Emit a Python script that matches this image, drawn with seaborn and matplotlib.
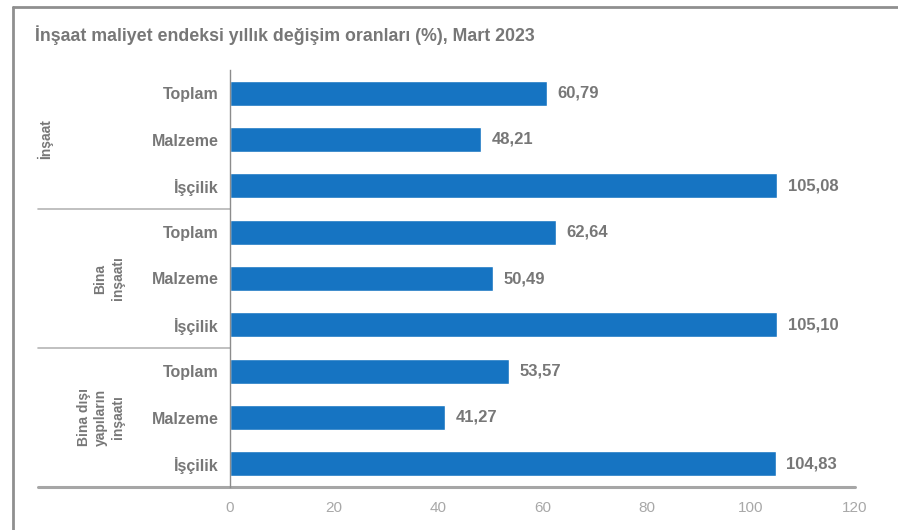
import matplotlib
matplotlib.use("Agg")
import matplotlib.pyplot as plt
from matplotlib.lines import Line2D
import seaborn as sns
import pandas as pd

# Data: annual change rates of the construction cost index (%), March 2023
groups = ["İnşaat", "Bina\ninşaatı", "Bina dışı\nyapıların\ninşaatı"]
items = ["Toplam", "Malzeme", "İşçilik"]
values = [
    [60.79, 48.21, 105.08],   # İnşaat
    [62.64, 50.49, 105.10],   # Bina inşaatı
    [53.57, 41.27, 104.83],   # Bina dışı yapıların inşaatı
]
value_labels = [
    ["60,79", "48,21", "105,08"],
    ["62,64", "50,49", "105,10"],
    ["53,57", "41,27", "104,83"],
]
x_ticks = [0, 20, 40, 60, 80, 100, 120]

rows = []
for gi, g in enumerate(groups):
    for ii, it in enumerate(items):
        rows.append({"key": f"{gi}-{it}", "item": it, "group": g,
                     "value": values[gi][ii], "label": value_labels[gi][ii]})
df = pd.DataFrame(rows)

sns.set_theme(style="white")
plt.rcParams["font.family"] = ["Liberation Sans", "DejaVu Sans"]

BAR = "#1674c2"
TXT = "#777777"
LINE = "#a6a6a6"

fig = plt.figure(figsize=(8.98, 5.30), dpi=100)
ax = fig.add_axes([230 / 898, 1 - 487 / 530, 625 / 898, 417 / 530])

sns.barplot(data=df, y="key", x="value", orient="h", color=BAR,
            width=0.54, saturation=1, ax=ax)

ax.set_xlim(0, 120)
ax.set_ylim(len(df) - 0.5, -0.5)
ax.set_xticks(x_ticks)
ax.set_xticklabels([str(t) for t in x_ticks], color="#a8a8a8", fontsize=11)
ax.set_yticks(range(len(df)))
ax.set_yticklabels(df["item"], color=TXT, fontsize=11.5, fontweight="bold")
ax.set_xlabel("")
ax.set_ylabel("")
ax.tick_params(axis="x", direction="out", length=6, width=1.2, color=LINE, pad=4)
ax.tick_params(axis="y", length=0, pad=8)

for s in ["top", "right", "bottom"]:
    ax.spines[s].set_visible(False)
ax.spines["left"].set_color("#8c8c8c")
ax.spines["left"].set_linewidth(1.0)

# Value labels at bar ends
for i, r in df.iterrows():
    ax.text(r["value"] + 2, i, r["label"], va="center", ha="left",
            color=TXT, fontsize=12, fontweight="bold")

# Baseline extended under the category labels
ax.add_line(Line2D([-0.307, 1.0], [0, 0], transform=ax.transAxes,
                   color=LINE, lw=2.2, clip_on=False))

# Group separators and rotated group names
blend = matplotlib.transforms.blended_transform_factory(ax.transAxes, ax.transData)
for b in [2.5, 5.5]:
    ax.add_line(Line2D([-0.307, 0], [b, b], transform=blend,
                       color="#b5b5b5", lw=1.2, clip_on=False))
group_x = [45 / 898, 109 / 898, 101 / 898]
for gi, g in enumerate(groups):
    yc = gi * 3 + 1
    ax.text(group_x[gi], yc, g, transform=matplotlib.transforms.blended_transform_factory(
        fig.transFigure, ax.transData), rotation=90, ha="center", va="center",
        multialignment="center", color=TXT, fontsize=10, fontweight="bold",
        linespacing=1.3)

fig.text(35 / 898, 1 - 35 / 530,
         "İnşaat maliyet endeksi yıllık değişim oranları (%), Mart 2023",
         ha="left", va="center", color=TXT, fontsize=12.8, fontweight="bold")

# Page frame
fig.add_artist(Line2D([13 / 898, 1.0], [1 - 7 / 530, 1 - 7 / 530],
                      transform=fig.transFigure, color="#8f8f8f", lw=2))
fig.add_artist(Line2D([13 / 898, 13 / 898], [0, 1 - 7 / 530],
                      transform=fig.transFigure, color="#8f8f8f", lw=2))

fig.savefig("out.png", dpi=100, facecolor="white")
